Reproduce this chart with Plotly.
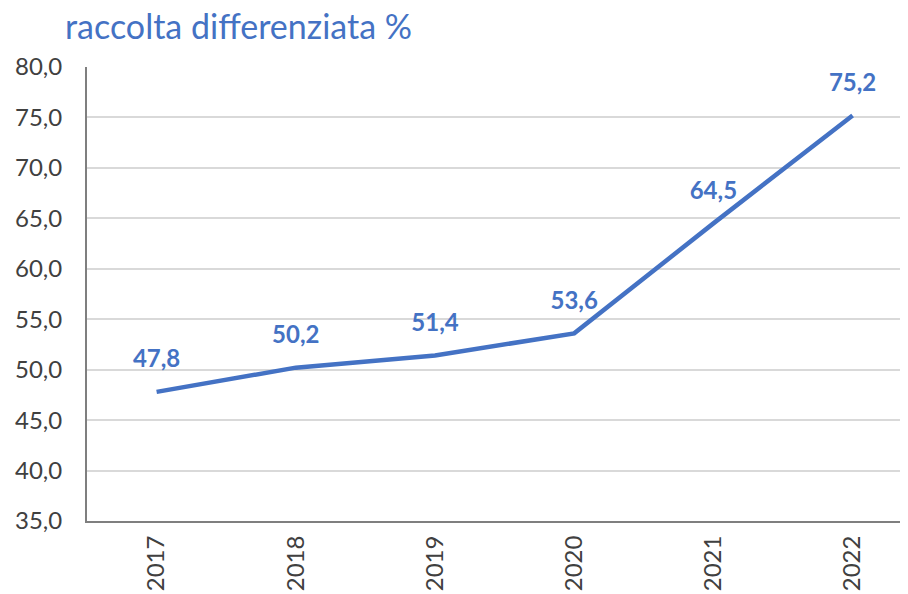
import plotly.graph_objects as go

years = ["2017", "2018", "2019", "2020", "2021", "2022"]
values = [47.8, 50.2, 51.4, 53.6, 64.5, 75.2]
labels = ["47,8", "50,2", "51,4", "53,6", "64,5", "75,2"]
title_text = "raccolta differenziata %"

blue = "#4472C4"
fig = go.Figure()
fig.add_trace(go.Scatter(x=years, y=values, mode="lines",
                         line=dict(color=blue, width=4.5), hoverinfo="skip"))
# data labels: invisible markers push the text above each point
fig.add_trace(go.Scatter(x=years, y=values, mode="markers+text",
                         text=["<b>" + t + "</b>" for t in labels],
                         textposition="top center",
                         marker=dict(size=28, color="rgba(0,0,0,0)"),
                         textfont=dict(family="Lato", size=24, color=blue),
                         hoverinfo="skip", cliponaxis=False))

fig.update_layout(
    width=900, height=586,
    margin=dict(l=79, r=0, t=59, b=73),
    paper_bgcolor="white", plot_bgcolor="white",
    separators=",.",
    showlegend=False,
    title=dict(text=title_text, x=57/900, xanchor="left", y=1 - 7/586, yanchor="top",
               font=dict(family="Lato", size=34, color=blue)),
    font=dict(family="Lato", size=24, color="#404040"),
)
fig.update_yaxes(range=[35, 80], dtick=5, tick0=35, tickformat=".1f",
                 showgrid=True, gridcolor="#D9D9D9", gridwidth=1.5,
                 showline=True, linecolor="#7F7F7F", linewidth=2,
                 zeroline=False, ticks="", ticklabelstandoff=18, automargin=False,
                 tickfont=dict(family="Lato", size=24, color="#404040"))
fig.update_xaxes(type="category", range=[-0.5, 5.398], tickangle=-90,
                 showgrid=False, showline=True, linecolor="#7F7F7F", linewidth=2,
                 ticks="", ticklabelstandoff=3, automargin=False,
                 tickfont=dict(family="Lato", size=24, color="#404040"))

fig.write_html("out.html")
